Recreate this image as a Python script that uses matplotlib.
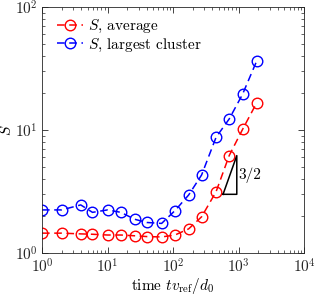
import matplotlib
matplotlib.use('Agg')
import matplotlib.pyplot as plt
import numpy as np

# time tv_ref/d0
t = [1, 2, 3.9, 5.9, 10, 16, 26, 40, 67, 107, 173, 273, 454, 720, 1150, 1900]
# S, average
s_avg = [1.45, 1.45, 1.43, 1.42, 1.40, 1.40, 1.38, 1.36, 1.35, 1.40, 1.57, 1.97,
         3.15, 6.2, 10.1, 16.7]
# S, largest cluster
s_big = [2.24, 2.24, 2.46, 2.14, 2.24, 2.14, 1.88, 1.77, 1.74, 2.21, 2.96, 4.31,
         8.73, 12.3, 19.5, 36.6]

# slope triangle (3/2)
tri_x = [580, 940]
tri_y = [3.0, 3.0 * (940 / 580) ** 1.5]

plt.rcParams['font.family'] = 'serif'
plt.rcParams['font.serif'] = ['cmr10']
plt.rcParams['mathtext.fontset'] = 'cm'
plt.rcParams['axes.formatter.use_mathtext'] = True
plt.rcParams['font.size'] = 11

fig = plt.figure(figsize=(3.15, 2.96), dpi=100)
ax = fig.add_axes([0.1333, 0.1453, 0.832, 0.831])

ax.plot(t, s_avg, '--o', color='red', mfc='none', ms=7.6, lw=1.1, mew=1.0,
        dashes=(5, 3), label='$S$, average')
ax.plot(t, s_big, '--o', color='blue', mfc='none', ms=7.6, lw=1.1, mew=1.0,
        dashes=(5, 3), label='$S$, largest cluster')

ax.plot([tri_x[0], tri_x[1], tri_x[1], tri_x[0]],
        [tri_y[0], tri_y[0], tri_y[1], tri_y[0]], color='black', lw=1.1)
ax.text(tri_x[1] * 1.06, np.sqrt(tri_y[0] * tri_y[1]), '3/2',
        ha='left', va='center')

ax.set_xscale('log')
ax.set_yscale('log')
ax.set_xlim(1, 1e4)
ax.set_ylim(1, 100)
ax.set_xticks([1, 10, 100, 1000, 10000])
ax.set_yticks([1, 10, 100])
ax.set_xlabel(r'time $tv_{\rm ref}/d_0$', labelpad=0)
ax.set_ylabel('$S$')
ax.yaxis.set_label_coords(-0.105, 0.5)

ax.tick_params(which='both', direction='in', top=True, right=True, colors='#262626',
               labelcolor='#262626')
ax.tick_params(which='major', length=4, width=0.6, pad=3.5)
ax.tick_params(axis='y', which='major', pad=3)
ax.tick_params(which='minor', length=2, width=0.5)
for sp in ax.spines.values():
    sp.set_color('#262626')
    sp.set_linewidth(0.6)

ax.legend(loc='upper left', bbox_to_anchor=(0.057, 0.955), frameon=False,
          handlelength=1.7, handletextpad=0.35, borderpad=0, borderaxespad=0,
          labelspacing=0.1, fontsize=11)

fig.savefig('out.png', dpi=100)
